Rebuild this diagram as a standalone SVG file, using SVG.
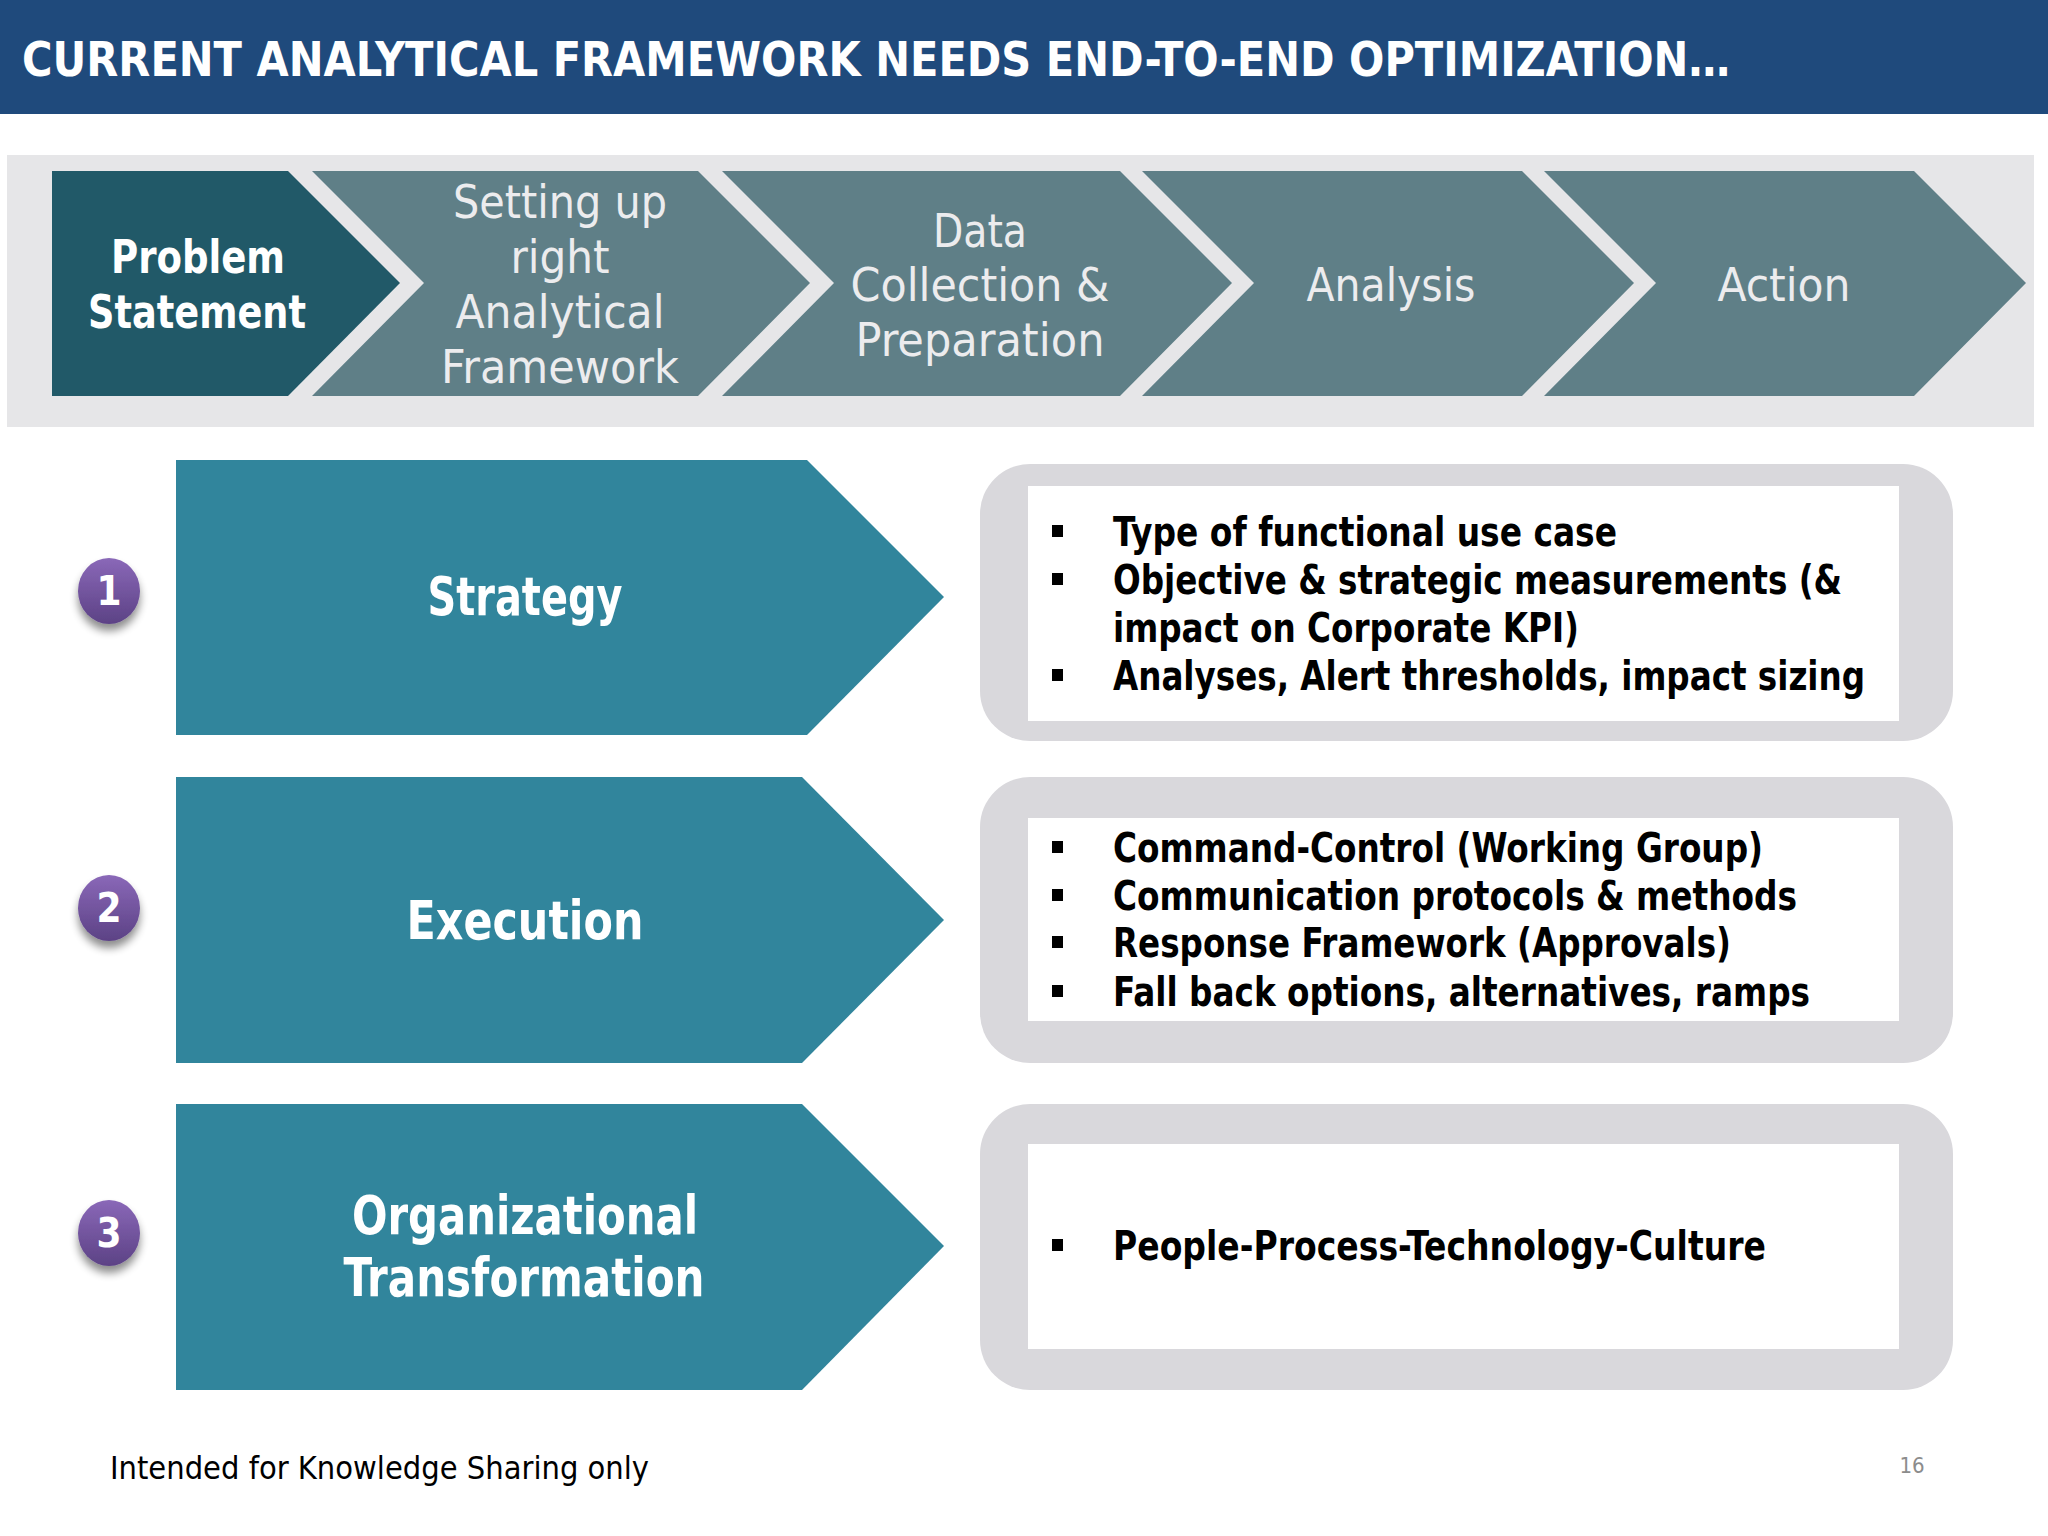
<svg xmlns="http://www.w3.org/2000/svg" width="2048" height="1536" viewBox="0 0 2048 1536">
<defs>
<style>
.t{font-family:"DejaVu Sans Condensed","DejaVu Sans",sans-serif;}
.hd{fill:#ffffff;font-size:48px;font-weight:bold;}
.ch{fill:#ECECEE;font-size:46px;text-anchor:middle;}
.chw{fill:#ffffff;font-size:46px;font-weight:bold;text-anchor:middle;}
.rw{fill:#ffffff;font-size:54px;font-weight:bold;text-anchor:middle;}
.bl{fill:#000000;font-size:40px;font-weight:bold;}
.num{fill:#ffffff;font-size:40px;font-weight:bold;text-anchor:middle;}
.chev{fill:#5F7F87;}
.row{fill:#31859C;}
.outer{fill:#D9D8DC;}
.inner{fill:#ffffff;}
.sq{fill:#000000;}
</style>
<linearGradient id="pg" x1="0" y1="0" x2="0" y2="1">
<stop offset="0" stop-color="#8A68B8"/>
<stop offset="1" stop-color="#5C4285"/>
</linearGradient>
<filter id="sh" x="-50%" y="-50%" width="200%" height="200%">
<feGaussianBlur in="SourceAlpha" stdDeviation="4"/>
<feOffset dx="0" dy="7" result="b"/>
<feComponentTransfer><feFuncA type="linear" slope="0.45"/></feComponentTransfer>
<feMerge><feMergeNode/><feMergeNode in="SourceGraphic"/></feMerge>
</filter>
</defs>
<rect width="2048" height="1536" fill="#ffffff"/>

<g id="header">
<rect x="0" y="0" width="2048" height="114" fill="#1F4A7C"/>
<text class="t hd" x="22" y="76" textLength="1708" lengthAdjust="spacingAndGlyphs">CURRENT ANALYTICAL FRAMEWORK NEEDS END-TO-END OPTIMIZATION…</text>
</g>

<g id="process-band">
<rect x="7" y="155" width="2027" height="272" fill="#E6E6E8"/>
</g>

<g id="step-problem">
<polygon points="52,171 288,171 400,283 288,396 52,396" fill="#215968"/>
<text class="t chw" x="198" y="273" textLength="174" lengthAdjust="spacingAndGlyphs">Problem</text>
<text class="t chw" x="197" y="328" textLength="218" lengthAdjust="spacingAndGlyphs">Statement</text>
</g>
<g id="step-framework">
<polygon class="chev" points="312,171 698,171 810,283 698,396 312,396 424,283"/>
<text class="t ch" x="560" y="218" textLength="214" lengthAdjust="spacingAndGlyphs">Setting up</text>
<text class="t ch" x="560" y="273" textLength="99" lengthAdjust="spacingAndGlyphs">right</text>
<text class="t ch" x="560" y="328" textLength="209" lengthAdjust="spacingAndGlyphs">Analytical</text>
<text class="t ch" x="560" y="383" textLength="238" lengthAdjust="spacingAndGlyphs">Framework</text>
</g>
<g id="step-data">
<polygon class="chev" points="722,171 1120,171 1232,283 1120,396 722,396 834,283"/>
<text class="t ch" x="980" y="247" textLength="94" lengthAdjust="spacingAndGlyphs">Data</text>
<text class="t ch" x="980" y="301" textLength="259" lengthAdjust="spacingAndGlyphs">Collection &amp;</text>
<text class="t ch" x="980" y="356" textLength="249" lengthAdjust="spacingAndGlyphs">Preparation</text>
</g>
<g id="step-analysis">
<polygon class="chev" points="1142,171 1522,171 1634,283 1522,396 1142,396 1254,283"/>
<text class="t ch" x="1391" y="301" textLength="169" lengthAdjust="spacingAndGlyphs">Analysis</text>
</g>
<g id="step-action">
<polygon class="chev" points="1544,171 1914,171 2026,283 1914,396 1544,396 1656,283"/>
<text class="t ch" x="1784" y="301" textLength="133" lengthAdjust="spacingAndGlyphs">Action</text>
</g>

<g id="badge-1">
<ellipse cx="109" cy="591" rx="31" ry="33" fill="url(#pg)" filter="url(#sh)"/>
<text class="t num" x="109" y="605">1</text>
</g>
<g id="badge-2">
<ellipse cx="109" cy="908" rx="31" ry="33" fill="url(#pg)" filter="url(#sh)"/>
<text class="t num" x="109" y="922">2</text>
</g>
<g id="badge-3">
<ellipse cx="109" cy="1233" rx="31" ry="33" fill="url(#pg)" filter="url(#sh)"/>
<text class="t num" x="109" y="1247">3</text>
</g>

<g id="row-strategy">
<polygon class="row" points="176,460 807,460 944,597 807,735 176,735"/>
<text class="t rw" x="525" y="615" textLength="195" lengthAdjust="spacingAndGlyphs">Strategy</text>
</g>
<g id="row-execution">
<polygon class="row" points="176,777 802,777 944,920 802,1063 176,1063"/>
<text class="t rw" x="525" y="939" textLength="237" lengthAdjust="spacingAndGlyphs">Execution</text>
</g>
<g id="row-transformation">
<polygon class="row" points="176,1104 802,1104 944,1246 802,1390 176,1390"/>
<text class="t rw" x="525" y="1234" textLength="346" lengthAdjust="spacingAndGlyphs">Organizational</text>
<text class="t rw" x="524" y="1296" textLength="361" lengthAdjust="spacingAndGlyphs">Transformation</text>
</g>

<g id="box-strategy">
<rect class="outer" x="980" y="464" width="973" height="277" rx="50" ry="50"/>
<rect class="inner" x="1028" y="486" width="871" height="235"/>
<rect class="sq" x="1052" y="525" width="11" height="12"/>
<rect class="sq" x="1052" y="573" width="11" height="12"/>
<rect class="sq" x="1052" y="669" width="11" height="12"/>
<text class="t bl" x="1113" y="546" textLength="504" lengthAdjust="spacingAndGlyphs">Type of functional use case</text>
<text class="t bl" x="1113" y="594" textLength="729" lengthAdjust="spacingAndGlyphs">Objective &amp; strategic measurements (&amp;</text>
<text class="t bl" x="1113" y="642" textLength="466" lengthAdjust="spacingAndGlyphs">impact on Corporate KPI)</text>
<text class="t bl" x="1113" y="690" textLength="752" lengthAdjust="spacingAndGlyphs">Analyses, Alert thresholds, impact sizing</text>
</g>
<g id="box-execution">
<rect class="outer" x="980" y="777" width="973" height="286" rx="50" ry="50"/>
<rect class="inner" x="1028" y="818" width="871" height="203"/>
<rect class="sq" x="1052" y="841" width="11" height="12"/>
<rect class="sq" x="1052" y="889" width="11" height="12"/>
<rect class="sq" x="1052" y="936" width="11" height="12"/>
<rect class="sq" x="1052" y="985" width="11" height="12"/>
<text class="t bl" x="1113" y="862" textLength="650" lengthAdjust="spacingAndGlyphs">Command-Control (Working Group)</text>
<text class="t bl" x="1113" y="910" textLength="684" lengthAdjust="spacingAndGlyphs">Communication protocols &amp; methods</text>
<text class="t bl" x="1113" y="957" textLength="618" lengthAdjust="spacingAndGlyphs">Response Framework (Approvals)</text>
<text class="t bl" x="1113" y="1006" textLength="697" lengthAdjust="spacingAndGlyphs">Fall back options, alternatives, ramps</text>
</g>
<g id="box-transformation">
<rect class="outer" x="980" y="1104" width="973" height="286" rx="50" ry="50"/>
<rect class="inner" x="1028" y="1144" width="871" height="205"/>
<rect class="sq" x="1052" y="1239" width="11" height="12"/>
<text class="t bl" x="1113" y="1260" textLength="653" lengthAdjust="spacingAndGlyphs">People-Process-Technology-Culture</text>
</g>

<g id="connectors"></g>

<g id="footer">
<text class="t" x="110" y="1479" font-size="32" fill="#000000" textLength="539" lengthAdjust="spacingAndGlyphs">Intended for Knowledge Sharing only</text>
<text class="t" x="1912" y="1473" font-size="22" fill="#8C8C8C" text-anchor="middle">16</text>
</g>
</svg>
